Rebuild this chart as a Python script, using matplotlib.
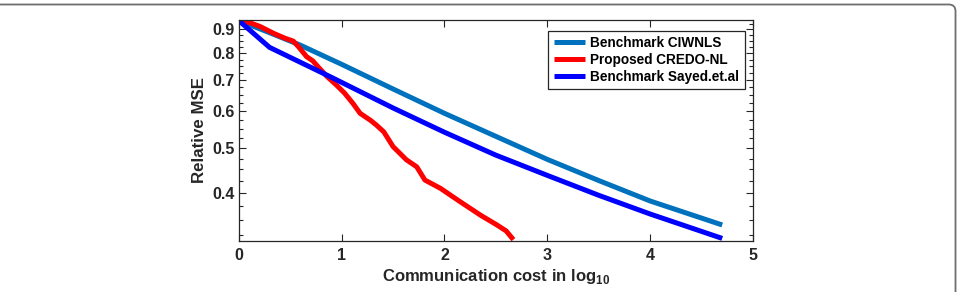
import numpy as np
import matplotlib
matplotlib.use('Agg')
import matplotlib.pyplot as plt
from matplotlib.patches import FancyBboxPatch

plt.rcParams['font.family'] = ['Liberation Sans', 'DejaVu Sans']
plt.rcParams['font.weight'] = 'bold'
plt.rcParams['mathtext.fontset'] = 'custom'
plt.rcParams['mathtext.rm'] = 'Liberation Sans'
plt.rcParams['mathtext.bf'] = 'Liberation Sans:bold'

# values (x = communication cost in log10, y = relative MSE)
ciwnls_x = [0.0, 0.3, 0.6, 1.0, 1.5, 2.0, 2.5, 3.0, 3.5, 4.0, 4.7]
ciwnls_y = [0.940, 0.885, 0.832, 0.757, 0.670, 0.594, 0.530, 0.473, 0.426, 0.385, 0.342]

credo_x = [0.0, 0.12, 0.21, 0.34, 0.45, 0.53, 0.58, 0.66, 0.72, 0.77, 0.86, 0.95, 1.03, 1.11, 1.18,
           1.28, 1.34, 1.41, 1.50, 1.63, 1.73, 1.81, 1.96, 2.15, 2.35, 2.51, 2.60, 2.67]
credo_y = [0.940, 0.928, 0.912, 0.882, 0.861, 0.849, 0.826, 0.786, 0.770, 0.748, 0.712, 0.683, 0.656,
           0.624, 0.594, 0.574, 0.560, 0.542, 0.504, 0.472, 0.456, 0.427, 0.410, 0.384, 0.359, 0.342,
           0.332, 0.318]

sayed_x = [0.0, 0.30, 0.9, 1.5, 2.0, 2.5, 3.0, 3.5, 4.0, 4.7]
sayed_y = [0.940, 0.823, 0.710, 0.610, 0.541, 0.483, 0.437, 0.396, 0.361, 0.320]

labels = ['Benchmark CIWNLS', 'Proposed CREDO-NL', 'Benchmark Sayed.et.al']
colors = ['#0072BD', '#FF0000', '#0000FF']

x_ticks = [0, 1, 2, 3, 4, 5]
y_ticks = [0.4, 0.5, 0.6, 0.7, 0.8, 0.9]

fig = plt.figure(figsize=(9.58, 2.92), dpi=100)

# rounded frame around the figure (only top/right edges visible)
frame = FancyBboxPatch((-0.05, -0.2), 955.5 / 958 + 0.05, 1 - 4.5 / 292 + 0.2,
                       boxstyle='round,pad=0,rounding_size=0.007',
                       mutation_aspect=958 / 292, transform=fig.transFigure,
                       facecolor='none', edgecolor='#6e6e6e', linewidth=1.3)
fig.patches.append(frame)

ax = fig.add_axes([0.2492, 0.1757, 0.5369, 0.7558])
ax.plot(ciwnls_x, ciwnls_y, color=colors[0], lw=3.6, label=labels[0], solid_capstyle='butt')
ax.plot(credo_x, credo_y, color=colors[1], lw=3.6, label=labels[1], solid_capstyle='butt')
ax.plot(sayed_x, sayed_y, color=colors[2], lw=3.6, label=labels[2], solid_capstyle='butt')

ax.set_yscale('log')
ax.set_xlim(0, 5)
ax.set_ylim(0.3164, 0.9424)
ax.set_xticks(x_ticks)
ax.set_xticklabels([str(t) for t in x_ticks])
ax.set_yticks(y_ticks)
ax.set_yticklabels([f'{t:.1f}' for t in y_ticks])
ax.set_yticks(np.arange(0.325, 0.94, 0.025), minor=True)
ax.yaxis.set_minor_formatter(matplotlib.ticker.NullFormatter())
ax.xaxis.set_minor_locator(matplotlib.ticker.NullLocator())

tick_color = '#262626'
ax.tick_params(which='both', direction='in', top=True, right=True, color=tick_color,
               labelcolor=tick_color, labelsize=11.5, width=0.8)
ax.tick_params(which='major', length=5)
ax.tick_params(which='minor', length=3)
ax.tick_params(axis='x', pad=5)
ax.tick_params(axis='y', pad=3)
for sp in ax.spines.values():
    sp.set_color(tick_color)
    sp.set_linewidth(0.9)

ax.set_xlabel(r'Communication cost in log$_{\mathbf{10}}$', fontsize=12, fontweight='bold',
              color=tick_color, labelpad=3)
ax.set_ylabel('Relative MSE', fontsize=12.2, fontweight='bold', color=tick_color, labelpad=4)

leg = ax.legend(loc='upper right', bbox_to_anchor=(0.984, 0.952), borderaxespad=0,
                fancybox=False, edgecolor='#262626', framealpha=1, fontsize=9.8,
                handlelength=2.3, handletextpad=0.4, labelspacing=0.22, borderpad=0.4)
leg.get_frame().set_linewidth(0.9)

fig.savefig('out.png', dpi=100)
